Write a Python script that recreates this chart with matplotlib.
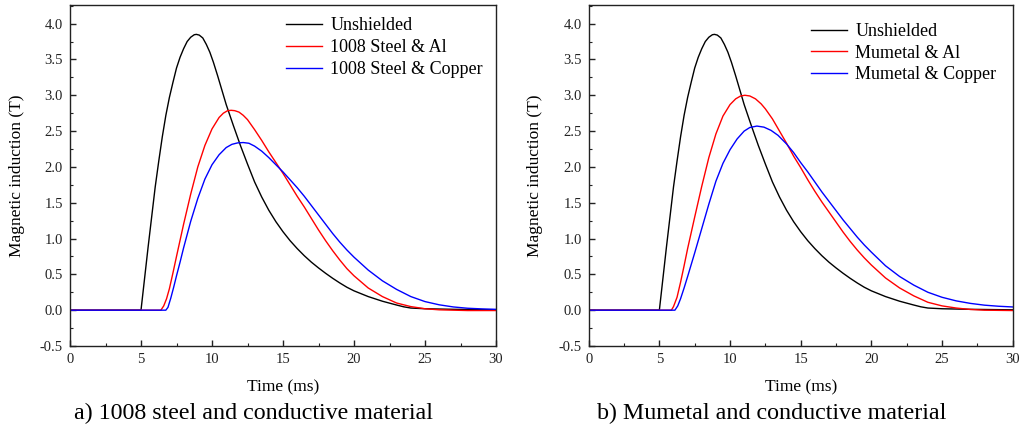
import numpy as np
import matplotlib
matplotlib.use("Agg")
import matplotlib.pyplot as plt
from matplotlib.ticker import MultipleLocator, FormatStrFormatter

plt.rcParams["font.family"] = ["Liberation Serif", "DejaVu Serif"]
plt.rcParams["axes.unicode_minus"] = False

# Unshielded field pulse (same in both panels)
t_unshielded = [0, 5.0, 5.5, 6.0, 6.25, 6.5, 6.75, 7.0, 7.25, 7.5, 7.75, 8.0, 8.25, 8.5,
                8.75, 8.9, 9.1, 9.35, 9.6, 9.85, 10.1, 10.4, 10.7, 11.0, 11.5, 12.0,
                12.5, 13.0, 13.5, 14.0, 14.5, 15.0, 15.5, 16.0, 16.5, 17.0, 17.5,
                18.0, 18.5, 19.0, 19.5, 20.0, 21.0, 22.0, 23.0, 23.5, 24.0, 25.0,
                27.0, 30.0]
b_unshielded = [0, 0, 0.88, 1.72, 2.08, 2.42, 2.72, 2.97, 3.18, 3.38, 3.53, 3.65, 3.75, 3.81,
                3.845, 3.85, 3.84, 3.80, 3.71, 3.60, 3.46, 3.27, 3.07, 2.87, 2.58, 2.3,
                2.04, 1.79, 1.58, 1.395, 1.235, 1.095, 0.97, 0.86, 0.76, 0.67, 0.59,
                0.515, 0.445, 0.38, 0.32, 0.27, 0.19, 0.125, 0.072, 0.047, 0.03, 0.02,
                0.012, 0.005]

# (a) 1008 steel shields
t_steel_al = [0, 6.4, 6.6, 6.8, 7.0, 7.25, 7.5, 8.0, 8.5, 9.0, 9.5, 10.0, 10.5, 10.8,
              11.1, 11.35, 11.6, 11.9, 12.2, 12.5, 13.0, 13.5, 14.0, 14.5, 15.0, 15.5,
              16.0, 16.5, 17.0, 17.5, 18.0, 18.5, 19.0, 19.5, 20.0, 21.0, 22.0, 23.0,
              24.0, 25.0, 26.0, 27.0, 28.0, 30.0]
b_steel_al = [0, 0, 0.06, 0.16, 0.3, 0.52, 0.75, 1.2, 1.62, 2.0, 2.3, 2.53, 2.69, 2.75,
              2.785, 2.79, 2.785, 2.765, 2.72, 2.66, 2.52, 2.37, 2.21, 2.06, 1.91, 1.75,
              1.59, 1.44, 1.28, 1.12, 0.97, 0.83, 0.70, 0.58, 0.48, 0.31, 0.19, 0.10,
              0.05, 0.02, 0.005, 0.0, -0.005, -0.005]

t_steel_cu = [0, 6.75, 6.9, 7.1, 7.3, 7.5, 7.75, 8.0, 8.5, 9.0, 9.5, 10.0, 10.5, 11.0,
              11.4, 11.8, 12.2, 12.6, 13.0, 13.5, 14.0, 14.5, 15.0, 15.5, 16.0, 16.5,
              17.0, 17.5, 18.0, 18.5, 19.0, 19.5, 20.0, 21.0, 22.0, 23.0, 24.0, 25.0,
              26.0, 27.0, 28.0, 29.0, 30.0]
b_steel_cu = [0, 0, 0.04, 0.17, 0.32, 0.48, 0.67, 0.87, 1.24, 1.56, 1.83, 2.03, 2.17, 2.27,
              2.315, 2.335, 2.34, 2.33, 2.29, 2.22, 2.13, 2.03, 1.93, 1.82, 1.71, 1.59,
              1.46, 1.33, 1.2, 1.07, 0.95, 0.84, 0.74, 0.56, 0.41, 0.29, 0.19, 0.12,
              0.075, 0.045, 0.027, 0.018, 0.012]

# (b) Mumetal shields
t_mu_al = [0, 5.85, 6.0, 6.25, 6.5, 6.75, 7.0, 7.5, 8.0, 8.5, 9.0, 9.5, 10.0, 10.4,
           10.75, 11.05, 11.4, 11.8, 12.2, 12.5, 13.0, 13.5, 14.0, 14.5, 15.0, 15.5,
           16.0, 16.5, 17.0, 17.5, 18.0, 18.5, 19.0, 19.5, 20.0, 21.0, 22.0, 23.0,
           24.0, 25.0, 26.0, 27.0, 28.0, 30.0]
b_mu_al = [0, 0, 0.05, 0.18, 0.39, 0.62, 0.86, 1.3, 1.73, 2.13, 2.46, 2.71, 2.87, 2.95,
           2.99, 3.0, 2.99, 2.95, 2.88, 2.81, 2.67, 2.5, 2.33, 2.15, 1.99, 1.82,
           1.66, 1.51, 1.37, 1.23, 1.09, 0.96, 0.84, 0.73, 0.63, 0.45, 0.31, 0.2,
           0.11, 0.06, 0.03, 0.01, 0.0, -0.005]

t_mu_cu = [0, 6.1, 6.3, 6.5, 6.75, 7.0, 7.5, 8.0, 8.5, 9.0, 9.5, 10.0, 10.5, 11.0,
           11.4, 11.9, 12.4, 12.9, 13.4, 14.0, 14.5, 15.0, 15.5, 16.0, 16.5, 17.0,
           17.5, 18.0, 18.5, 19.0, 19.5, 20.0, 21.0, 22.0, 23.0, 24.0, 25.0, 26.0,
           27.0, 28.0, 29.0, 30.0]
b_mu_cu = [0, 0, 0.06, 0.16, 0.31, 0.47, 0.8, 1.14, 1.48, 1.8, 2.05, 2.24, 2.39, 2.5,
           2.55, 2.57, 2.555, 2.51, 2.44, 2.32, 2.2, 2.06, 1.93, 1.79, 1.65, 1.52,
           1.39, 1.26, 1.14, 1.02, 0.91, 0.81, 0.62, 0.47, 0.35, 0.25, 0.18, 0.13,
           0.095, 0.07, 0.055, 0.045]

labels_a = ["Unshielded", "1008 Steel & Al", "1008 Steel & Copper"]
labels_b = ["Unshielded", "Mumetal & Al", "Mumetal & Copper"]
captions = ["a) 1008 steel and conductive material", "b) Mumetal and conductive material"]
colors = ["#000000", "#ff0000", "#0000ff"]

W, H = 1026, 426
fig = plt.figure(figsize=(W / 100, H / 100), dpi=100)
ax_a = fig.add_axes([70 / W, 1 - 346 / H, 426 / W, 341 / H])
ax_b = fig.add_axes([588.7 / W, 1 - 346 / H, 424 / W, 341 / H])

panels = [
    (ax_a, [(t_unshielded, b_unshielded), (t_steel_al, b_steel_al), (t_steel_cu, b_steel_cu)],
     labels_a, (286, 26.5), 70, 426),
    (ax_b, [(t_unshielded, b_unshielded), (t_mu_al, b_mu_al), (t_mu_cu, b_mu_cu)],
     labels_b, (811, 32.0), 588.7, 424),
]

for ax, series, labels, (lx, ly), x0, w in panels:
    for (t, b), c, lab in zip(series, colors, labels):
        ax.plot(t, b, color=c, lw=1.0, label=lab)
    ax.set_xlim(0, 30)
    ax.set_ylim(-0.5, 4.26)
    ax.xaxis.set_major_locator(MultipleLocator(5))
    ax.xaxis.set_minor_locator(MultipleLocator(2.5))
    ax.yaxis.set_major_locator(MultipleLocator(0.5))
    ax.yaxis.set_minor_locator(MultipleLocator(0.25))
    ax.yaxis.set_major_formatter(FormatStrFormatter("%.1f"))
    ax.tick_params(which="both", direction="in", top=False, right=False,
                   labelsize=10.5, colors="#222222")
    ax.tick_params(which="major", length=4, width=1.0, pad=5)
    ax.tick_params(which="minor", length=2, width=0.8)
    for s in ax.spines.values():
        s.set_linewidth(1.0)
        s.set_color("#222222")
    ax.set_xlabel("Time (ms)", fontsize=12.5, labelpad=10)
    ax.set_ylabel("Magnetic induction (T)", fontsize=12.5, labelpad=11)
    ax.legend(loc="upper left", bbox_to_anchor=((lx - x0) / w, 1 - (ly - 14) / 341),
              frameon=False, fontsize=13, handlelength=2.0, handletextpad=0.45,
              labelspacing=0.26, borderaxespad=0, borderpad=0)

fig.text(253.5 / W, 1 - 413 / H, captions[0], ha="center", va="center", fontsize=17.3)
fig.text(771.5 / W, 1 - 413 / H, captions[1], ha="center", va="center", fontsize=17.3)

fig.savefig("out.png", dpi=100)
